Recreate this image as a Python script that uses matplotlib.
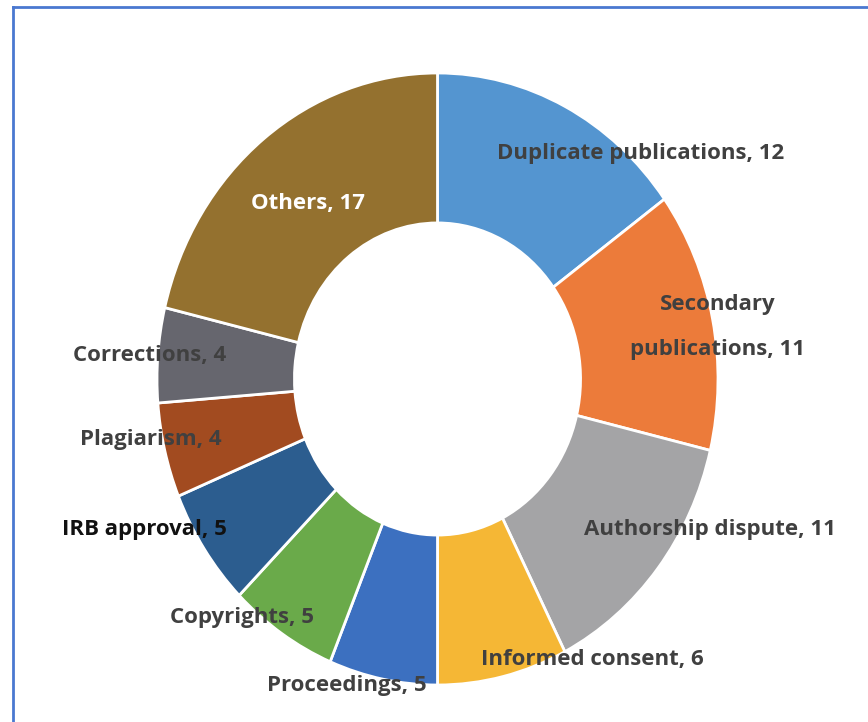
import matplotlib
matplotlib.use("Agg")
import matplotlib.pyplot as plt
from matplotlib.lines import Line2D

categories = ["Duplicate publications", "Secondary\npublications", "Authorship dispute",
              "Informed consent", "Proceedings", "Copyrights", "IRB approval",
              "Plagiarism", "Corrections", "Others"]
values = [12, 11, 11, 6, 5, 5, 5, 4, 4, 17]
colors = ["#5495D0", "#EC7B3A", "#A4A4A6", "#F5B735", "#3C70C0",
          "#6AAA4A", "#2C5D8F", "#A24B20", "#66666E", "#94712F"]

W, H = 868, 722
fig = plt.figure(figsize=(W / 100, H / 100), dpi=100)
fig.patch.set_facecolor("white")

cx, cy, rx, ry = 437.5, 379, 280.5, 306
ax = fig.add_axes([(cx - rx) / W, (H - (cy + ry)) / H, 2 * rx / W, 2 * ry / H])
ax.pie(values, colors=colors, startangle=90, counterclock=False, radius=1.0,
       wedgeprops=dict(width=0.49, edgecolor="white", linewidth=2))
ax.set_aspect("auto")
ax.set_xlim(-1, 1)
ax.set_ylim(-1, 1)
ax.axis("off")

# label centres in pixel coordinates
label_pos = [(641, 153), (718, 327), (710, 530), (592, 659), (347, 685),
             (242, 618), (144, 530), (151, 440), (150, 356), (308, 203)]
label_colors = ["#404040"] * 6 + ["#111111", "#404040", "#404040", "white"]

for cat, v, (px, py), c in zip(categories, values, label_pos, label_colors):
    fig.text(px / W, 1 - py / H, f"{cat}, {v}", ha="center", va="center",
             fontsize=16, fontweight="bold", color=c, family=["Open Sans", "DejaVu Sans"],
             linespacing=2.55, multialignment="center")

# blue frame (left and top edges)
fig.add_artist(Line2D([13 / W, 13 / W], [0, 1 - 7 / H], transform=fig.transFigure,
                      color="#4A78D0", linewidth=2))
fig.add_artist(Line2D([13 / W, 1], [1 - 7 / H, 1 - 7 / H], transform=fig.transFigure,
                      color="#4A78D0", linewidth=2))

fig.savefig("out.png", dpi=100)
